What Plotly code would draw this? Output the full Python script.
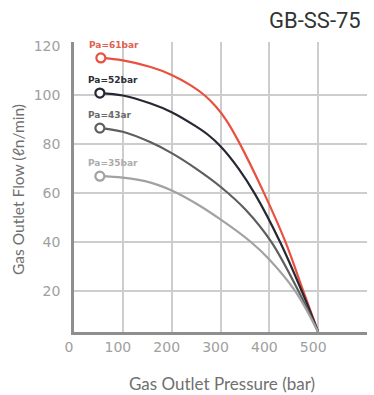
import plotly.graph_objects as go

# ---- data ----
labels = ["Pa=61bar", "Pa=52bar", "Pa=43ar", "Pa=35bar"]
colors = ["#e8513f", "#262833", "#5e5e5e", "#a2a2a2"]
label_colors = ["#e0604f", "#2a2c36", "#6a6a6a", "#ababab"]

p61 = [55, 100, 157, 200, 240, 269, 290, 312, 337, 388, 433, 469, 500]
f61 = [115.0, 114.0, 111.3, 108.1, 103.7, 99.5, 95.3, 89.6, 81.0, 60.4, 40.0, 20.3, 3.3]

p52 = [53, 100, 157, 200, 249, 275, 300, 337, 371, 422, 467, 500]
f52 = [100.7, 99.7, 96.4, 92.9, 87.2, 83.6, 79.0, 69.9, 59.4, 40.0, 19.7, 3.3]

p43 = [53, 100, 157, 200, 249, 300, 351, 404, 459, 500]
f43 = [86.4, 84.9, 80.6, 76.2, 70.0, 62.5, 53.2, 40.0, 20.2, 3.3]

p35 = [53, 100, 157, 200, 249, 300, 361, 400, 453, 500]
f35 = [66.8, 66.2, 64.2, 61.0, 55.8, 49.2, 40.2, 32.9, 20.0, 3.3]

x_ticks = [0, 100, 200, 300, 400, 500, 600]
y_ticks = [20, 40, 60, 80, 100, 120]
y_grid = [20, 40, 60, 80, 100]

series = [(p61, f61), (p52, f52), (p43, f43), (p35, f35)]

fig = go.Figure()
for (px_, fy), c in zip(series, colors):
    fig.add_trace(go.Scatter(x=px_, y=fy, mode="lines",
                             line=dict(color=c, width=2.2, shape="spline", smoothing=1.0),
                             hoverinfo="skip", showlegend=False))
for (px_, fy), c in zip(series, colors):
    fig.add_trace(go.Scatter(x=[px_[0]], y=[fy[0]], mode="markers",
                             marker=dict(symbol="circle", size=9, color="white",
                                         line=dict(color=c, width=2.2)),
                             showlegend=False, cliponaxis=False))

for (px_, fy), lab, lc in zip(series, labels, label_colors):
    fig.add_annotation(x=px_[0], y=fy[0], text="<b>" + lab + "</b>", showarrow=False,
                       xanchor="left", yanchor="middle", xshift=-14, yshift=13,
                       font=dict(family="DejaVu Sans", size=9, color=lc))

grid_c = "#cdcdcd"
fig.update_xaxes(range=[0, 600], tickvals=x_ticks, showgrid=True, gridcolor=grid_c,
                 gridwidth=1.5, zeroline=False, showline=True, linecolor="#8e8e8e",
                 linewidth=2.5, ticks="", ticklabelshift=-5,
                 tickfont=dict(family="DejaVu Sans", size=14, color="#a0a0a0"))
fig.update_yaxes(range=[3.3, 121.5], tickvals=y_ticks, showgrid=False, zeroline=False,
                 showline=True, linecolor="#8e8e8e", linewidth=2.5, ticks="",
                 ticklabelstandoff=8,
                 minor=dict(tickvals=y_grid, showgrid=True, gridcolor=grid_c, gridwidth=1.5, ticks=""),
                 tickfont=dict(family="DejaVu Sans", size=14, color="#a0a0a0"))

fig.add_annotation(xref="paper", yref="paper", x=0.505, y=-0.176, xanchor="center", yanchor="middle",
                   text="Gas Outlet Pressure (bar)", showarrow=False,
                   font=dict(family="Lato", size=17, color="#707070"))
fig.add_annotation(xref="paper", yref="paper", x=-0.191, y=0.49, xanchor="center", yanchor="middle",
                   textangle=-90, text="Gas Outlet Flow (ℓn/min)", showarrow=False,
                   font=dict(family="Lato", size=15.5, color="#707070"))
fig.add_annotation(xref="paper", yref="paper", x=0.822, y=1.0, xanchor="center", yanchor="middle",
                   yshift=22, text="GB-SS-75", showarrow=False,
                   font=dict(family="Roboto", size=22, color="#333333"))

fig.update_layout(width=374, height=395, margin=dict(l=74, r=7, t=42, b=63),
                  paper_bgcolor="white", plot_bgcolor="white")
fig.write_html("out.html", config={"displayModeBar": False},
               post_script="document.body.style.margin='0';")
